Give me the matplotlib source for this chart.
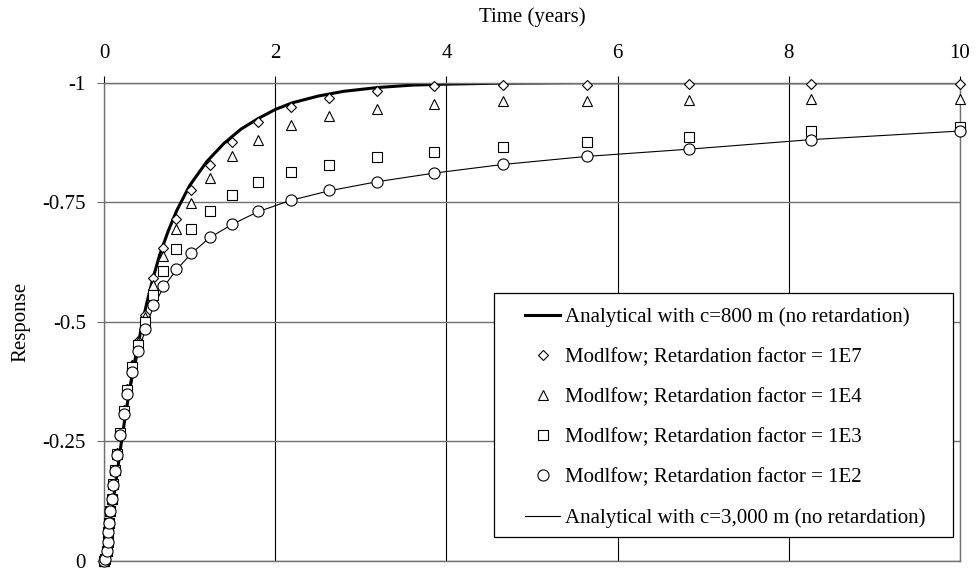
import matplotlib.pyplot as plt
from matplotlib.patches import Rectangle

plt.rcParams['font.family'] = ['Liberation Serif', 'DejaVu Serif']
plt.rcParams['font.size'] = 15

# analytical solution, c = 800 m
t_800 = [0.0, 0.02, 0.05, 0.08, 0.11, 0.15, 0.2, 0.25, 0.3, 0.35, 0.4, 0.45, 0.5,
         0.57, 0.65, 0.75, 0.85, 1.0, 1.2, 1.4, 1.6, 1.8, 2.0, 2.2, 2.5, 2.8,
         3.2, 3.6, 4.0, 4.6, 5.5, 7.0, 8.5, 10.0]
r_800 = [0.0, 0.0, -0.045, -0.09, -0.13, -0.18, -0.245, -0.305, -0.36, -0.41,
         -0.455, -0.5, -0.54, -0.59, -0.64, -0.69, -0.733, -0.785, -0.835, -0.873,
         -0.903, -0.925, -0.944, -0.958, -0.972, -0.982, -0.99, -0.995, -0.997,
         -0.999, -1.0, -1.0, -1.0, -1.0]

# analytical solution, c = 3,000 m
t_3000 = [0.0, 0.02, 0.05, 0.08, 0.11, 0.15, 0.2, 0.25, 0.3, 0.35, 0.4, 0.48,
          0.576, 0.693, 0.841, 1.02, 1.234, 1.499, 1.795, 2.18, 2.63, 3.19,
          3.857, 4.656, 5.645, 6.83, 8.26, 10.0]
r_3000 = [0.0, 0.0, -0.045, -0.09, -0.13, -0.18, -0.243, -0.3, -0.35, -0.395,
          -0.435, -0.483, -0.532, -0.572, -0.608, -0.643, -0.676, -0.704, -0.73,
          -0.754, -0.774, -0.793, -0.811, -0.829, -0.846, -0.861, -0.881, -0.899]

# modflow output times (same for every run)
t_mf = [0.0, 0.015, 0.03, 0.042, 0.052, 0.062, 0.075, 0.09, 0.108, 0.128, 0.155,
        0.19, 0.23, 0.27, 0.33, 0.4, 0.48, 0.576, 0.693, 0.841, 1.02, 1.234,
        1.499, 1.795, 2.18, 2.63, 3.19, 3.857, 4.656, 5.645, 6.83, 8.26, 10.0]
r_1e7 = [0.0, -0.005, -0.02, -0.04, -0.06, -0.08, -0.105, -0.13, -0.16, -0.19,
         -0.225, -0.268, -0.315, -0.36, -0.41, -0.46, -0.515, -0.592, -0.654,
         -0.715, -0.775, -0.828, -0.876, -0.917, -0.95, -0.969, -0.982, -0.993,
         -0.995, -0.996, -0.997, -0.997, -0.997]
r_1e4 = [0.0, -0.005, -0.02, -0.04, -0.06, -0.08, -0.105, -0.13, -0.16, -0.19,
         -0.225, -0.268, -0.315, -0.36, -0.41, -0.458, -0.51, -0.577, -0.637,
         -0.694, -0.748, -0.8, -0.846, -0.88, -0.912, -0.931, -0.945, -0.955,
         -0.961, -0.962, -0.963, -0.965, -0.965]
r_1e3 = [0.0, -0.005, -0.02, -0.04, -0.06, -0.08, -0.105, -0.13, -0.16, -0.19,
         -0.224, -0.267, -0.313, -0.357, -0.405, -0.452, -0.5, -0.557, -0.606,
         -0.652, -0.694, -0.732, -0.765, -0.792, -0.813, -0.828, -0.844, -0.855,
         -0.865, -0.876, -0.886, -0.898, -0.908]
r_1e2 = [0.0, -0.005, -0.02, -0.04, -0.06, -0.08, -0.105, -0.13, -0.158, -0.188,
         -0.222, -0.263, -0.308, -0.35, -0.395, -0.44, -0.485, -0.535, -0.575,
         -0.61, -0.645, -0.678, -0.704, -0.731, -0.755, -0.775, -0.793, -0.812,
         -0.83, -0.847, -0.862, -0.88, -0.898]

x_ticks = [0, 2, 4, 6, 8, 10]
y_ticks = [-1, -0.75, -0.5, -0.25, 0]
y_labels = ['-1', '-0.75', '-0.5', '-0.25', '0']

grey = '#707070'

fig = plt.figure(figsize=(9.76, 5.72), dpi=100)
ax = fig.add_axes([0.1066, 0.0192, 0.8770, 0.8362])

l_800, = ax.plot(t_800, r_800, color='k', lw=2.2, zorder=2)
mk = dict(ls='none', mfc='white', mec='k', mew=0.8, clip_on=False, zorder=3)
m7, = ax.plot(t_mf, r_1e7, marker='D', ms=5.2, **mk)
m4, = ax.plot(t_mf, r_1e4, marker='^', ms=7.5, **mk)
m3, = ax.plot(t_mf, r_1e3, marker='s', ms=6.8, **mk)
m2, = ax.plot(t_mf, r_1e2, marker='o', ms=8, **mk)
l_3000, = ax.plot(t_3000, r_3000, color='k', lw=0.8, zorder=2)

ax.set_xlim(0, 10)
ax.set_ylim(0, -1)
ax.set_xticks(x_ticks)
ax.set_yticks(y_ticks, y_labels)
ax.xaxis.tick_top()
ax.xaxis.set_label_position('top')
ax.tick_params(axis='x', direction='out', length=5, width=0.8, color='k', pad=9)
ax.tick_params(axis='y', direction='out', length=5, width=0.8, color=grey, pad=8)

ax.grid(axis='x', color='k', lw=0.8, zorder=1)
ax.grid(axis='y', color=grey, lw=1.0, zorder=1)
ax.set_axisbelow(True)
for s in ax.spines.values():
    s.set_color(grey)
    s.set_linewidth(1.0)

ax.set_xlabel('Time (years)', labelpad=16)
ax.set_ylabel('Response', labelpad=8.5)

# legend box drawn separately so the padding can be wider than tall
ax.add_patch(Rectangle((0.4556, 0.0508), 0.5359, 0.5101, transform=ax.transAxes,
                       facecolor='white', edgecolor='k', lw=0.9, zorder=4, clip_on=False))
ax.legend([l_800, m7, m4, m3, m2, l_3000],
          ['Analytical with c=800 m (no retardation)',
           'Modlfow; Retardation factor = 1E7',
           'Modlfow; Retardation factor = 1E4',
           'Modlfow; Retardation factor = 1E3',
           'Modlfow; Retardation factor = 1E2',
           'Analytical with c=3,000 m (no retardation)'],
          loc='center left', bbox_to_anchor=(0.4918, 0.300), frameon=False,
          borderpad=0, borderaxespad=0, handlelength=1.7, handletextpad=0.2,
          labelspacing=0.99, numpoints=1)

fig.savefig('out.png', dpi=100)
